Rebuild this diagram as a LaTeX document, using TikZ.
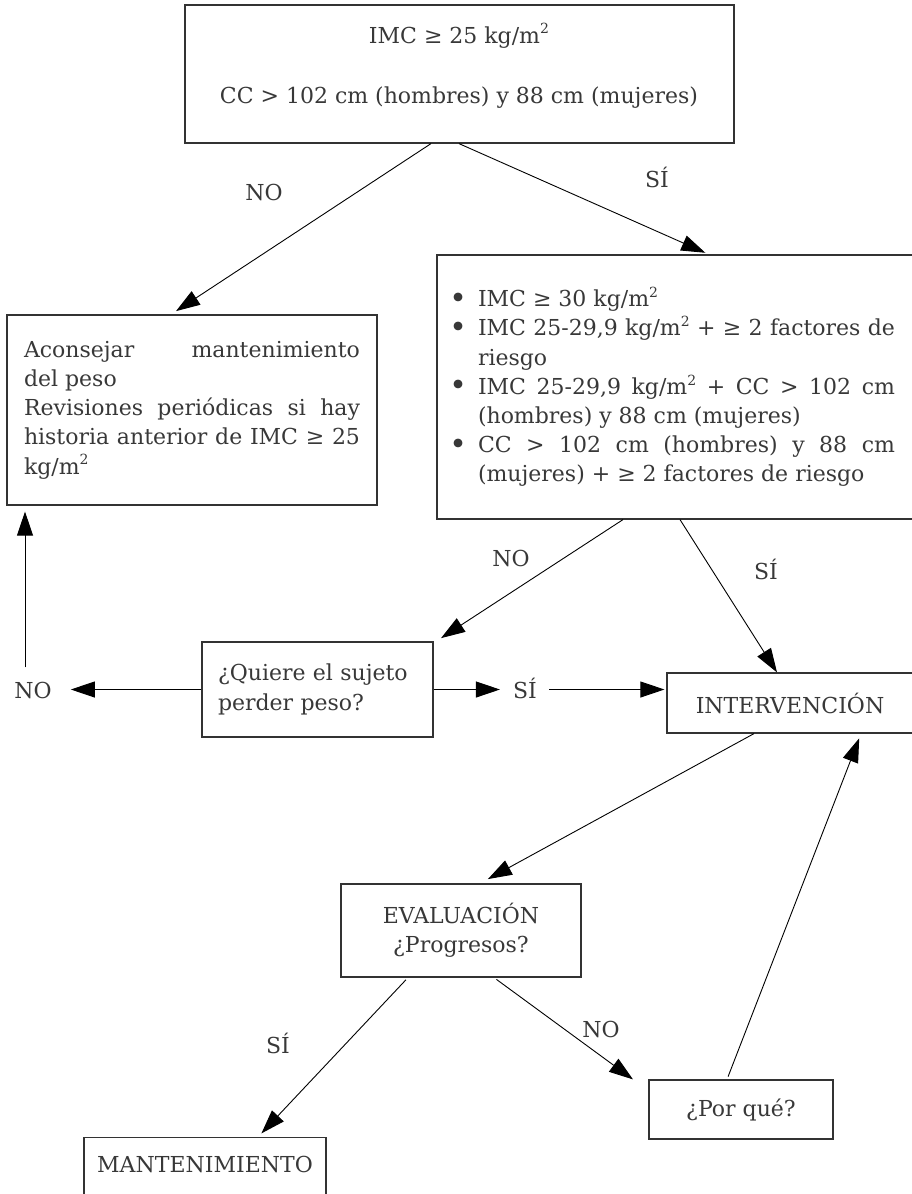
\documentclass[tikz,border=0pt]{standalone}
\usepackage{fontspec}
\setmainfont{DejaVu Serif}
\usetikzlibrary{arrows.meta}
% bullet hanging to the left of an item
\newcommand\critbullet{\noindent\llap{\raisebox{-0.06em}{\scalebox{1.35}{\textbullet}}\hspace{11pt}}}
% superscript two of the unit kg/m2
\newcommand\supsq{\raisebox{0.42em}{\fontsize{14}{14}\selectfont 2}}
\begin{document}
\begin{tikzpicture}[x=1pt,y=-1pt,
  every node/.style={font=\fontsize{22}{29.2}\selectfont, text=black!78},
  box/.style={draw=black!80, line width=1.2pt, rectangle, inner sep=0pt},
  lab/.style={inner sep=0pt},
  link/.style={line width=0.9pt, draw=black},
  arr/.style={link, -{Triangle[length=24pt,width=16pt]}}]
\useasboundingbox (0,0) rectangle (911,1194);

% boxes
\node[box, minimum width=549pt, minimum height=138pt] (top) at (459.5,74) {};
\node[lab, anchor=base] (crit1) at (459,43) {IMC ≥ 25 kg/m\supsq};
\node[lab, anchor=base] (crit2) at (459,103) {CC > 102 cm (hombres) y 88 cm (mujeres)};

\node[box, minimum width=370pt, minimum height=190pt, text width=336pt, align=justify]
  (acon) at (192,410)
  {Aconsejar mantenimiento\linebreak del peso\par
   Revisiones periódicas si hay\linebreak historia anterior de IMC ≥ 25\linebreak kg/m\supsq};

\node[box, minimum width=499pt, minimum height=264pt, text width=417pt, align=justify]
  (crit) at (686.5,387)
  {\critbullet IMC ≥ 30 kg/m\supsq\par
   \critbullet IMC 25-29,9 kg/m\supsq{} + ≥ 2 factores de\linebreak riesgo\par
   \critbullet IMC 25-29,9 kg/m\supsq{} + CC > 102 cm\linebreak (hombres) y 88 cm (mujeres)\par
   \critbullet CC > 102 cm (hombres) y 88 cm\linebreak (mujeres) + ≥ 2 factores de riesgo};

\node[box, minimum width=231pt, minimum height=95pt, text width=199pt, align=left]
  (quiere) at (317.5,689.5) {¿Quiere el sujeto\\perder peso?};

\node[box, minimum width=246pt, minimum height=60pt] (interv) at (790,703) {INTERVENCIÓN};

\node[box, minimum width=240pt, minimum height=93pt, align=center]
  (eval) at (461,930.5) {EVALUACIÓN\\¿Progresos?};

\node[box, minimum width=184pt, minimum height=59pt] (porque) at (741,1109.5) {¿Por qué?};

\node[box, minimum width=242pt, minimum height=80pt, anchor=north] (mant) at (205,1137) {};
\node[lab] (manttxt) at (205,1164) {MANTENIMIENTO};

% branch labels
\node[lab] (no1) at (264,192) {NO};
\node[lab] (si1) at (657,177) {SÍ};
\node[lab] (no2) at (511,558) {NO};
\node[lab] (si2) at (766,569) {SÍ};
\node[lab, anchor=base] (no3) at (33,698) {NO};
\node[lab, anchor=base] (si3) at (525,698) {SÍ};
\node[lab] (si4) at (278,1043) {SÍ};
\node[lab] (no4) at (601,1029) {NO};

% connectors
\draw[arr, shorten >=6pt] (top.south -| 431,0) -- (acon.north -| 171,0);
\draw[arr, shorten >=4pt] (top.south -| 459,0) -- (crit.north -| 709,0);
\draw[arr, shorten >=6pt] (crit.south -| 623,0) -- (quiere.north -| 436,0);
\draw[arr] (crit.south -| 680,0) -- (interv.north -| 777,0);
\draw[arr, shorten >=19pt] (quiere.west) -- (no3.east |- quiere.west);
\draw[arr, shorten <=14pt, shorten >=6pt] (no3.north -| 25,0) -- (acon.south -| 25,0);
\draw[arr, shorten >=13pt] (quiere.east) -- (si3.west |- quiere.east);
\draw[arr, shorten <=12pt, shorten >=2pt] (si3.east |- quiere.east) -- (interv.west |- quiere.east);
\draw[arr, shorten >=9pt] (interv.south -| 754,0) -- (eval.north -| 480,0);
\draw[arr, shorten <=3pt, shorten >=5pt] (eval.south -| 408,0) -- (mant.north -| 258,0);
\draw[arr, shorten <=3pt] (eval.south -| 494,0) -- (porque.north -| 633,0);
\draw[arr, shorten <=3pt, shorten >=5pt] (porque.north -| 727,0) -- (interv.south -| 861,0);
\end{tikzpicture}
\end{document}
